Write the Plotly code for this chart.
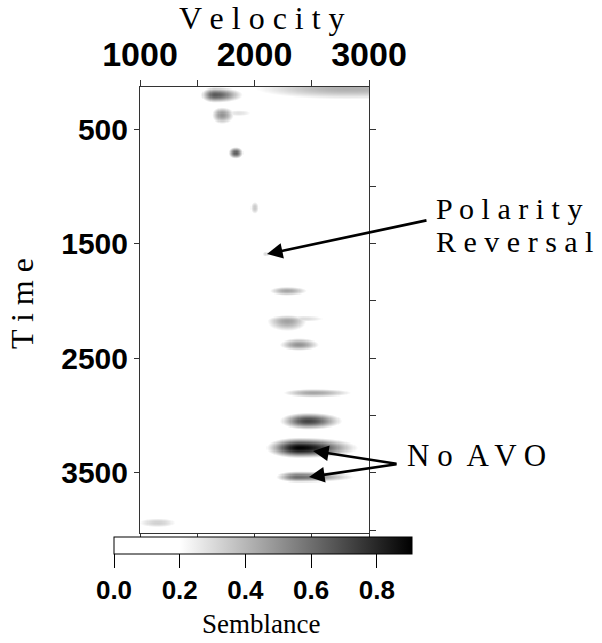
import numpy as np
import plotly.graph_objects as go

# ---- data ----
vel_grid = np.arange(1000, 3001, 10)          # velocity samples
time_grid = np.arange(130, 4031, 10)          # time samples

# semblance maxima (blobs)
blob_vel      = [1655, 1716, 1860, 1838, 2800, 2004, 2100, 2284, 2290, 2430, 2389, 2511, 2467, 2397, 2380, 1157]
blob_time     = [203,  377,  362,  709,  142,  1189, 1591, 1914, 2175, 2155, 2385, 2804, 3048, 3284, 3537, 3938]
blob_peak     = [0.66, 0.50, 0.28, 0.65, 0.42, 0.35, 0.30, 0.45, 0.46, 0.30, 0.50, 0.45, 0.72, 0.90, 0.60, 0.33]
blob_vel_lo   = [80,   65,   110,  43,   650,  35,   30,   117,  140,  110,  123,  203,  153,  171,  129,  163]
blob_vel_hi   = [160,  79,   130,  43,   1000, 35,   30,   140,  130,  190,  130,  265,  189,  294,  336,  153]
blob_time_up  = [45,   50,   28,   34,   80,   50,   20,   31,   38,   28,   43,   30,   47,   54,   33,   38]
blob_time_dn  = [45,   58,   28,   34,   80,   50,   20,   31,   70,   28,   36,   30,   47,   54,   33,   38]

x_tick_vals = [1000, 1500, 2000, 2500, 3000]
x_tick_text = ["1000", "", "2000", "", "3000"]
y_tick_vals = [500, 1500, 2500, 3500]
y_tick_text = ["500", "1500", "2500", "3500"]
y_minor_vals = [500, 1000, 1500, 2000, 2500, 3000, 3500, 4000]
cbar_vals = [0.0, 0.2, 0.4, 0.6, 0.8]
cbar_text = ["0.0", "0.2", "0.4", "0.6", "0.8"]

# ---- build semblance field ----
V, T = np.meshgrid(vel_grid, time_grid)
Z = np.zeros_like(V, dtype=float)
for v0, t0, pk, vl, vh, tu, td in zip(blob_vel, blob_time, blob_peak,
                                      blob_vel_lo, blob_vel_hi, blob_time_up, blob_time_dn):
    dv = V - v0
    dt = T - t0
    sv = np.where(dv < 0, vl, vh)
    st = np.where(dt < 0, tu, td)
    Z = np.maximum(Z, pk * np.exp(-0.5 * ((dv / sv) ** 2 + (dt / st) ** 2)))

zmax = 0.907
colorscale = [[0, "#ffffff"], [0.2 / zmax, "#ffffff"], [1, "#000000"]]

# pixel helpers for paper coords (plot area: x 140..369, y 87..533)
PL, PR, PT, PB = 140, 369, 87, 533
def px(x):
    return (x - PL) / (PR - PL)
def py(y):
    return (PB - y) / (PB - PT)

bold = dict(family="Liberation Sans", color="black", weight="bold")
serif = "Liberation Serif"

fig = go.Figure()
fig.add_trace(go.Heatmap(
    x=vel_grid, y=time_grid, z=Z,
    colorscale=colorscale, zmin=0, zmax=zmax,
    hoverinfo="skip",
    colorbar=dict(
        orientation="h",
        x=px(263), xanchor="center",
        y=py(537), yanchor="top",
        len=298, lenmode="pixels",
        thickness=17, xpad=0, ypad=0,
        outlinewidth=1, outlinecolor="black",
        ticks="outside", ticklen=14, tickcolor="black", tickwidth=1,
        tickvals=cbar_vals, ticktext=cbar_text,
        tickfont=dict(size=26, **bold),
    ),
))
# empty trace to attach the right-hand tick axis
fig.add_trace(go.Scatter(x=[], y=[], xaxis="x", yaxis="y2", showlegend=False))

fig.update_layout(
    width=602, height=643,
    margin=dict(l=PL, r=602 - PR, t=PT, b=643 - PB),
    paper_bgcolor="white", plot_bgcolor="white",
    showlegend=False,
    xaxis=dict(
        side="top", range=[1000, 3000],
        tickvals=x_tick_vals, ticktext=x_tick_text,
        ticks="outside", ticklen=6, tickcolor="#333", tickwidth=1,
        showline=True, linecolor="#333", linewidth=1, mirror="ticks",
        showgrid=False, zeroline=False,
        tickfont=dict(size=34, **bold),
    ),
    yaxis=dict(
        range=[4026, 133],
        tickvals=y_tick_vals, ticktext=y_tick_text,
        ticks="outside", ticklen=5, tickcolor="#333", tickwidth=1,
        showline=True, linecolor="#333", linewidth=1,
        showgrid=False, zeroline=False,
        tickfont=dict(size=30, **bold),
    ),
    yaxis2=dict(
        overlaying="y", side="right", range=[4026, 133],
        tickvals=y_minor_vals, showticklabels=False,
        ticks="outside", ticklen=6, tickcolor="#333", tickwidth=1,
        showline=True, linecolor="#333", linewidth=1,
        showgrid=False, zeroline=False,
    ),
)

annots = []
# titles
annots.append(dict(text="V e l o c i t y", xref="paper", yref="paper",
                   x=px(262), y=py(18), xanchor="center", yanchor="middle",
                   showarrow=False, font=dict(family=serif, size=32, color="black")))
annots.append(dict(text="T i m e", xref="paper", yref="paper",
                   x=px(22), y=py(304), xanchor="center", yanchor="middle", textangle=-90,
                   showarrow=False, font=dict(family=serif, size=32, color="black")))
annots.append(dict(text="Semblance", xref="paper", yref="paper",
                   x=px(261), y=py(624), xanchor="center", yanchor="middle",
                   showarrow=False, font=dict(family=serif, size=27, color="black")))
annots.append(dict(text="P o l a r i t y", xref="paper", yref="paper",
                   x=px(434), y=py(208), xanchor="left", yanchor="middle",
                   showarrow=False, font=dict(family=serif, size=30, color="black")))
annots.append(dict(text="R e v e r s a l", xref="paper", yref="paper",
                   x=px(434), y=py(241), xanchor="left", yanchor="middle",
                   showarrow=False, font=dict(family=serif, size=30, color="black")))
annots.append(dict(text="N o  A V O", xref="paper", yref="paper",
                   x=px(405), y=py(455), xanchor="left", yanchor="middle",
                   showarrow=False, font=dict(family=serif, size=31, color="black")))

# arrows (head in data coords, tail as pixel offsets)
arrow_style = dict(showarrow=True, arrowhead=2, arrowsize=1.2, arrowwidth=2.6,
                   arrowcolor="black", standoff=0, text="", xref="x", yref="y",
                   axref="pixel", ayref="pixel")
annots.append(dict(x=2109, y=1591, ax=161, ay=-34, **arrow_style))
annots.append(dict(x=2511, y=3310, ax=85, ay=13, **arrow_style))
annots.append(dict(x=2476, y=3537, ax=89, ay=-13, **arrow_style))

fig.update_layout(annotations=annots)
fig.write_html("out.html")
